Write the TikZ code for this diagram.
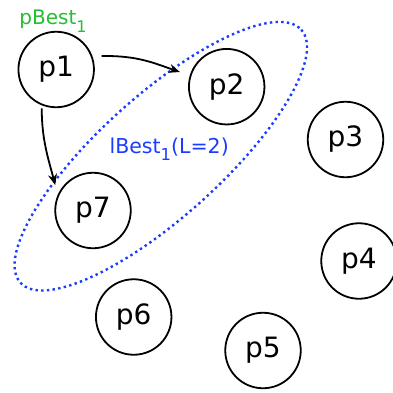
\documentclass[tikz,border=0pt]{standalone}
\usepackage{fontspec}
\setmainfont{DejaVu Sans}
\usepackage{tikz}
\usetikzlibrary{arrows.meta}

\definecolor{lbestblue}{RGB}{25,60,255}
\definecolor{pbestgreen}{RGB}{35,190,50}

\newcommand{\bestsub}[1]{\raisebox{-0.37em}{\scalebox{0.8}{#1}}}

\tikzset{
  particle/.style={circle, draw, line width=1.8pt, minimum size=75.5pt, inner sep=0pt, font=\fontsize{28}{28}\selectfont},
  link/.style={-{Stealth[length=11pt,width=9pt]}, line width=1.8pt},
  neighbourhood/.style={draw=lbestblue, line width=2.4pt, dash pattern=on 2.4pt off 3.3pt}
}

\begin{document}
\begin{tikzpicture}[x=1pt,y=1pt,yscale=-1,xscale=1]
\useasboundingbox (0,0) rectangle (392,393);

%Shape: Ellipse (local best group)
\draw[neighbourhood, rotate around={-42:(160.8,156.2)}] (160.8,156.2) ellipse [x radius=189, y radius=60.7];

%Shape: Circles (particles)
\node[particle] (p1) at (56.2,69.5) {p1};
\node[particle] (p2) at (226.7,86.7) {p2};
\node[particle] (p3) at (345.5,139.5) {p3};
\node[particle] (p4) at (359,261) {p4};
\node[particle] (p5) at (263,350.5) {p5};
\node[particle] (p6) at (133.7,317) {p6};
\node[particle] (p7) at (93,210.5) {p7};

%Curve Lines
\draw[link, shorten <=9pt, shorten >=10.4pt] (p1.20) .. controls +(45,-1) and +(-35,-12) .. (p2.163);
\draw[link, shorten <=3pt, shorten >=10pt] (p1.248) .. controls +(0,35) and +(-9,-35) .. (p7.156);

% Text Node
\node[anchor=base, text=pbestgreen, font=\fontsize{20}{20}\selectfont] (pbest) at (53,25) {pBest\bestsub{1}};
% Text Node
\node[anchor=base, text=lbestblue, font=\fontsize{20.5}{20.5}\selectfont] (lbest) at (169.2,153.3) {lBest\bestsub{1}(L=2)};

\end{tikzpicture}
\end{document}
